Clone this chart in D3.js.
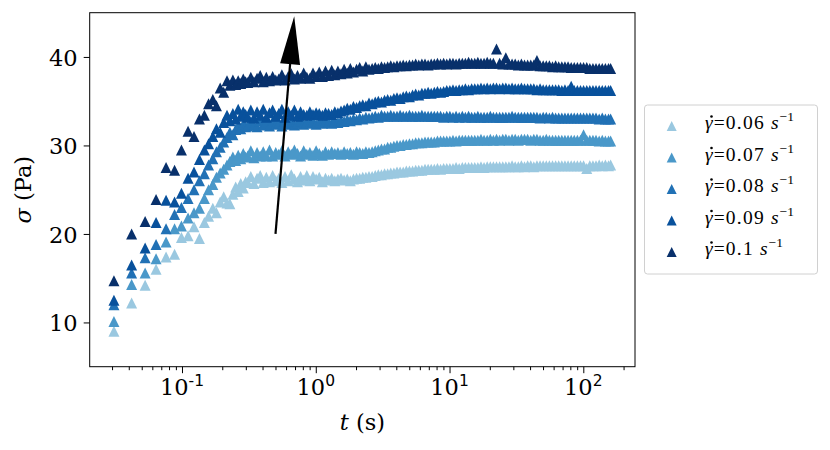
<!DOCTYPE html>
<html><head><meta charset="utf-8">
<script src="https://cdn.jsdelivr.net/npm/d3@7"></script>
<style>body{margin:0;background:#fff}</style>
</head><body><svg id="chart" width="830" height="450"></svg>
<script>
// time samples (s)
const times = [
0.031,0.042,0.053,0.064,0.076,0.088,0.099,0.111,0.123,0.135,0.147,0.158,0.170,0.181,0.193,0.205,0.217,0.228,0.240,0.252,0.263,0.275,0.287,0.299,
0.310,0.327,0.345,0.364,0.384,0.405,0.427,0.451,0.476,0.502,
0.529,0.558,0.589,0.622,0.656,0.692,0.730,0.770,0.812,0.857,
0.904,0.954,1.006,1.062,1.120,1.182,1.247,1.315,1.388,1.464,
1.544,1.629,1.719,1.813,1.913,2.018,2.129,2.246,2.370,2.500,
2.638,2.783,2.936,3.097,3.268,3.447,3.637,3.837,4.048,4.271,
4.506,4.753,5.015,5.291,5.582,5.889,6.213,6.554,6.915,7.295,
7.696,8.120,8.566,9.037,9.534,10.06,10.61,11.19,11.81,12.46,
13.14,13.87,14.63,15.43,16.28,17.18,18.12,19.12,20.17,21.28,
22.45,23.68,24.99,26.36,27.81,29.34,30.96,32.66,34.45,36.35,
38.35,40.46,42.68,45.03,47.51,50.12,52.88,55.78,58.85,62.09,
65.50,69.11,72.91,76.92,81.15,85.61,90.32,95.29,100.5,106.1,
111.9,118.0,124.5,131.4,138.6,146.2,154.3,160.0];

// stress sigma (Pa) for each shear rate
const sigma006 = [
9.0,12.2,14.2,16.0,17.4,17.7,19.6,19.8,20.8,19.5,21.3,22.0,22.9,22.4,23.6,24.2,23.5,23.4,24.5,25.3,24.8,25.7,25.2,25.9,
25.8,26.5,25.7,26.3,26.6,25.8,26.4,25.9,26.6,26.0,
26.3,25.8,26.5,26.0,26.7,26.2,25.9,26.5,26.1,26.6,
26.0,26.5,26.2,26.4,25.9,26.3,26.1,26.3,26.0,26.2,
26.3,26.1,26.2,26.0,26.2,26.3,26.3,26.4,26.4,26.5,
26.5,26.6,26.7,26.7,26.8,26.8,26.9,26.9,27.0,27.0,
27.0,27.1,27.1,27.1,27.2,27.2,27.2,27.3,27.3,27.3,
27.3,27.4,27.3,27.4,27.4,27.4,27.4,27.5,27.4,27.5,
27.5,27.5,27.5,27.5,27.5,27.6,27.5,27.6,27.6,27.6,
27.6,27.6,27.6,27.6,27.6,27.7,27.6,27.6,27.7,27.6,
27.7,27.7,27.6,27.7,27.7,27.7,27.7,27.7,27.7,27.7,
27.7,27.7,27.7,27.7,27.7,27.7,27.7,27.7,27.7,27.4,
27.7,27.7,27.7,27.8,27.7,27.8,27.7,27.8];
const sigma007 = [
10.1,14.3,15.6,17.2,19.1,20.6,20.9,21.8,22.4,22.9,24.0,25.0,25.6,26.4,26.9,27.3,27.8,28.2,28.7,28.3,28.9,28.5,29.1,28.7,
28.8,29.4,28.6,29.2,28.8,29.3,28.8,29.5,28.8,29.2,
29.0,29.4,28.8,29.3,29.0,29.5,29.1,28.8,29.4,29.0,
29.2,28.9,29.4,29.1,28.9,29.3,29.0,29.3,29.1,29.2,
29.0,29.3,29.1,29.2,29.0,29.3,29.2,29.1,29.3,29.2,
29.3,29.4,29.5,29.6,29.6,29.8,29.8,29.9,30.0,30.0,
30.1,30.1,30.2,30.2,30.3,30.3,30.3,30.4,30.4,30.4,
30.4,30.5,30.5,30.5,30.5,30.5,30.6,30.5,30.6,30.6,
30.6,30.6,30.6,30.6,30.6,30.7,30.6,30.6,30.7,30.6,
30.7,30.6,30.7,30.7,30.6,30.7,30.7,30.6,30.7,30.7,
30.7,30.6,30.7,30.7,30.6,30.6,30.7,30.6,30.6,30.6,
30.6,30.6,30.6,30.6,30.6,30.6,30.6,30.6,31.2,30.6,
30.6,30.6,30.6,30.5,30.6,30.5,30.5,30.5];
const sigma008 = [
12.0,15.6,17.3,18.8,20.6,22.2,23.0,24.0,25.0,26.0,26.8,27.8,28.5,29.3,29.8,30.4,30.9,31.5,31.2,31.8,32.2,31.9,32.4,32.1,
32.2,32.7,32.3,32.1,32.8,32.3,32.6,32.2,32.7,32.4,
32.5,32.2,32.8,32.4,32.6,32.3,32.5,32.8,32.4,32.6,
32.5,32.7,32.4,32.6,32.5,32.7,32.6,32.5,32.7,32.6,
32.8,32.7,32.9,32.8,33.0,32.9,33.1,33.0,33.2,33.1,
33.2,33.3,33.2,33.4,33.3,33.3,33.4,33.3,33.3,33.4,
33.3,33.3,33.4,33.3,33.3,33.3,33.4,33.3,33.3,33.3,
33.3,33.3,33.3,33.2,33.3,33.3,33.2,33.3,33.2,33.3,
33.2,33.3,33.2,33.2,33.3,33.2,33.2,33.2,33.3,33.2,
33.2,33.2,33.2,33.2,33.2,33.3,33.2,33.2,33.2,33.2,
33.2,33.2,33.2,33.2,33.1,33.2,33.2,33.1,33.2,33.1,
33.1,33.1,33.1,33.1,33.1,33.1,33.1,33.1,33.1,33.1,
33.1,33.1,33.1,33.0,33.1,33.0,33.0,33.0];
const sigma009 = [
12.5,16.5,18.4,21.3,23.8,23.6,24.6,26.3,27.0,28.4,29.5,30.2,31.0,31.9,31.5,32.6,33.4,32.8,33.6,33.0,34.1,33.3,33.8,33.5,
33.2,34.0,33.1,33.8,33.4,34.1,33.2,33.7,34.0,33.3,
33.6,34.1,33.2,33.8,33.4,34.0,33.3,33.8,33.5,33.4,
33.8,33.5,33.7,33.6,33.4,33.7,33.6,33.5,33.8,33.7,
33.9,34.0,34.2,34.1,34.4,34.3,34.5,34.6,34.5,34.8,
34.7,34.9,35.0,34.9,35.1,35.2,35.1,35.3,35.4,35.3,
35.5,35.6,35.5,35.7,35.8,35.7,35.9,35.9,36.0,35.9,
36.0,36.1,36.0,36.1,36.2,36.2,36.3,36.2,36.3,36.3,
36.4,36.3,36.4,36.4,36.4,36.5,36.4,36.5,36.4,36.5,
36.5,36.4,36.5,36.5,36.4,36.5,36.4,36.4,36.5,36.4,
36.4,36.4,36.4,36.3,36.4,36.3,36.3,36.3,36.3,36.3,
36.3,36.2,36.3,36.2,36.7,36.2,36.2,36.2,36.2,36.2,
36.2,36.2,36.2,36.2,36.2,36.2,36.2,36.2];
const sigma010 = [
14.7,20.0,21.4,23.9,27.5,27.2,29.5,31.6,31.0,33.0,33.4,34.7,35.2,34.5,36.5,36.0,37.3,36.8,37.4,36.9,37.3,37.0,37.5,37.2,
37.1,37.7,37.2,37.6,37.9,37.2,37.7,37.3,37.8,37.4,
37.5,38.0,37.4,37.8,38.1,37.5,37.9,37.6,38.2,37.7,
37.6,38.2,37.8,38.3,37.8,38.4,37.9,38.5,38.0,38.4,
38.1,38.6,38.2,38.7,38.3,38.6,38.8,38.4,38.9,38.6,
38.7,38.8,38.7,38.9,38.8,38.9,39.0,38.9,39.0,39.0,
39.1,39.0,39.1,39.1,39.2,39.1,39.2,39.2,39.1,39.2,
39.2,39.3,39.2,39.3,39.2,39.3,39.3,39.2,39.3,39.3,
39.3,39.4,39.3,39.3,39.4,39.3,39.3,39.4,39.3,39.3,
40.9,39.3,39.2,39.9,39.2,39.2,39.2,39.1,39.2,39.1,
39.1,39.1,39.1,39.6,39.0,39.0,39.0,39.0,38.9,39.0,
38.9,38.9,38.9,38.9,38.8,38.8,38.8,38.8,38.8,38.8,
38.7,38.7,38.7,38.7,38.7,38.7,38.7,38.7];

const rateLabels = ["0.06","0.07","0.08","0.09","0.1"];
const rateColors = ["#9ac8e0","#4a98c9","#2171b5","#08519c","#08306b"];
const yTickValues = [10,20,30,40];
const xMajorTicks = [0.1,1,10,100];
const xTickExponents = ["-1","0","1","2"];
const xMinorTicks = [0.03,0.04,0.05,0.06,0.07,0.08,0.09,0.2,0.3,0.4,0.5,0.6,0.7,0.8,0.9,
  2,3,4,5,6,7,8,9,20,30,40,50,60,70,80,90,200];
const arrowFrom = [0.5, 20];
const arrowTo = [0.69, 44.6];

const allSeries = [sigma006, sigma007, sigma008, sigma009, sigma010];

const svg = d3.select("#chart");
const L = 89.7, R = 635, T = 12.7, B = 366.7;
const x = d3.scaleLog().domain([Math.pow(10,-1.690), Math.pow(10,2.3865)]).range([L, R]);
const y = d3.scaleLinear().domain([5, 45]).range([B, T]);

const serif = "'DejaVu Serif', serif";

// markers
const tri = "M0,-5.5L5.5,5.5L-5.5,5.5Z";
allSeries.forEach((vals, si) => {
  svg.append("g").selectAll("path").data(times.map((t,i)=>[t, vals[i]]))
    .enter().append("path")
    .attr("d", tri)
    .attr("transform", d => `translate(${x(d[0])},${y(d[1])})`)
    .attr("fill", rateColors[si]);
});

// arrow
{
  const x0 = x(arrowFrom[0]), y0 = y(arrowFrom[1]);
  const x1 = x(arrowTo[0]), y1 = y(arrowTo[1]);
  const dx = x1-x0, dy = y1-y0, len = Math.hypot(dx,dy);
  const ux = dx/len, uy = dy/len, px = -uy, py = ux;
  const hl = 48, hw = 10;
  const bx = x1 - ux*hl, by = y1 - uy*hl;
  svg.append("line").attr("x1",x0).attr("y1",y0).attr("x2",bx+ux*2).attr("y2",by+uy*2)
    .attr("stroke","#000").attr("stroke-width",2.2);
  svg.append("path").attr("d",`M${x1},${y1}L${bx+px*hw},${by+py*hw}L${bx-px*hw},${by-py*hw}Z`)
    .attr("fill","#000");
}

// frame
svg.append("rect").attr("x",L).attr("y",T).attr("width",R-L).attr("height",B-T)
  .attr("fill","none").attr("stroke","#000").attr("stroke-width",1);

// y axis
const yAxis = svg.append("g").attr("transform",`translate(${L},0)`)
  .call(d3.axisLeft(y).tickValues(yTickValues).tickSize(6).tickPadding(6).tickFormat(d3.format("d")));
yAxis.select(".domain").remove();
yAxis.selectAll("text").attr("font-family",serif).attr("font-size",22.5).attr("fill","#000").attr("dy","0.36em");

// x axis major + minor
const xAxis = svg.append("g").attr("transform",`translate(0,${B})`)
  .call(d3.axisBottom(x).tickValues(xMajorTicks).tickSize(6.5).tickFormat(""));
xAxis.select(".domain").remove();
const xMinor = svg.append("g").attr("transform",`translate(0,${B})`)
  .call(d3.axisBottom(x).tickValues(xMinorTicks).tickSize(3.5).tickFormat(""));
xMinor.select(".domain").remove();

xMajorTicks.forEach((v,i) => {
  const t = svg.append("text").attr("x", x(v)).attr("y", 395).attr("text-anchor","middle")
    .attr("font-family",serif).attr("font-size",22.5).attr("fill","#000");
  t.append("tspan").text("10");
  t.append("tspan").attr("dy",-9).attr("font-family","'DejaVu Sans', sans-serif").attr("font-size",15.5).text(xTickExponents[i]);
});

// axis labels
{
  const t = svg.append("text").attr("x",(L+R)/2).attr("y",430).attr("text-anchor","middle")
    .attr("font-family",serif).attr("font-size",22.5).attr("fill","#000");
  t.append("tspan").attr("font-style","italic").text("t");
  t.append("tspan").text(" (s)");
  const s = svg.append("text").attr("transform",`translate(31,${(T+B)/2}) rotate(-90)`).attr("text-anchor","middle")
    .attr("font-family",serif).attr("font-size",22.5).attr("fill","#000");
  s.append("tspan").attr("font-style","italic").text("σ");
  s.append("tspan").text(" (Pa)");
}

// legend
const lg = svg.append("g");
lg.append("rect").attr("x",644.5).attr("y",105).attr("width",173).attr("height",169).attr("rx",3)
  .attr("fill","#fff").attr("stroke","#d0d0d0").attr("stroke-width",1);
rateLabels.forEach((lab,i) => {
  const cy = 126 + i*31.5;
  lg.append("path").attr("d","M0,-5L5,5L-5,5Z").attr("transform",`translate(671.7,${cy})`).attr("fill",rateColors[i]);
  const t = lg.append("text").attr("x",705).attr("y",cy+3)
    .attr("font-family","'Liberation Serif', serif").attr("font-size",19.5).attr("fill","#000");
  t.append("tspan").attr("font-style","italic").text("γ");
  t.append("tspan").attr("dx",1).text("=");
  t.append("tspan").attr("dx",1).attr("letter-spacing",1.3).text(lab);
  t.append("tspan").attr("dx",6).attr("font-style","italic").text("s");
  t.append("tspan").attr("dy",-8).attr("dx",1).attr("font-size",13.5).text("−1");
  lg.append("circle").attr("cx",711.5).attr("cy",cy-9.5).attr("r",1.3).attr("fill","#000");
});
</script>
</body></html>
